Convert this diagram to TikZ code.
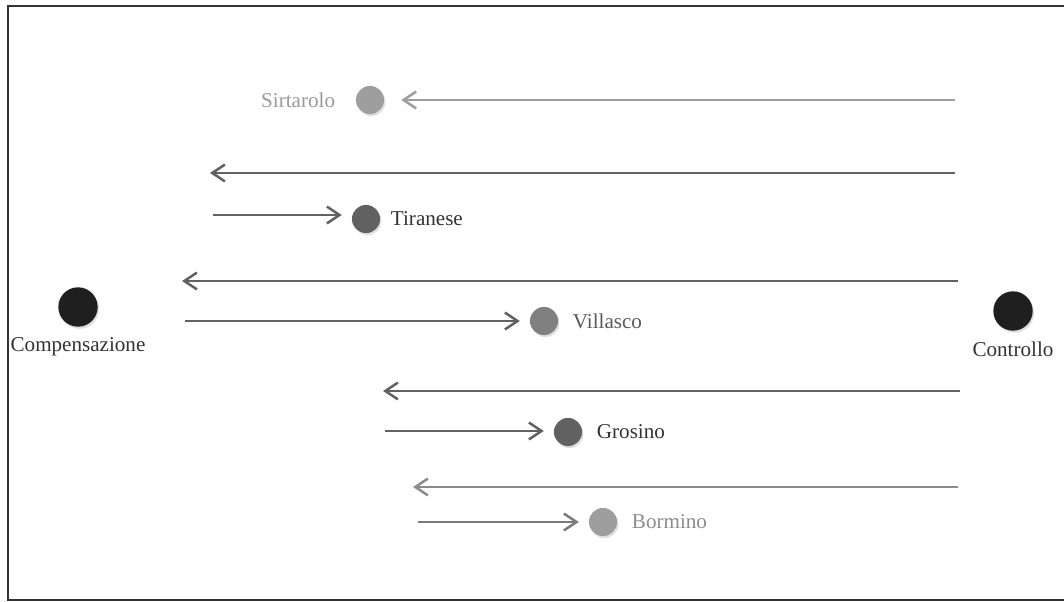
\documentclass[tikz,border=0pt]{standalone}
\usepackage{fontspec}
\setmainfont{Liberation Serif}
\usetikzlibrary{arrows.meta,shadows}

\tikzset{
  dot/.style={circle, inner sep=0pt, minimum size=#1,
    drop shadow={opacity=0.25, shadow xshift=1pt, shadow yshift=-1.5pt}},
  dot/.default=20pt,
  flow/.style={draw=#1, line width=2pt, -{Straight Barb[length=9pt,width=12pt,line width=1.8pt]}},
  flow/.default=black!62,
  lbl/.style={font=\fontsize{15}{18}\selectfont, text=#1},
  lbl/.default=black!80
}

\begin{document}
\begin{tikzpicture}[x=0.025cm, y=-0.025cm]
		%%%%% frame %%%%%
		\useasboundingbox (0, 0) rectangle (1064, 602);
		\draw[line width=2pt, black!80] (1064, 6) -- (8, 6) -- (8, 600) -- (1064, 600);
		
		%%%%% end points %%%%%
		\node[dot=28pt, fill=black!88] (comp) at (78, 307) {};
		\node[lbl, below=4pt] at (comp.south) {Compensazione};
		\node[dot=28pt, fill=black!88] (contr) at (1013, 311) {};
		\node[lbl, below=4pt] at (contr.south) {Controllo};
		
		%%%%% stations %%%%%
		\node[dot, fill=black!38] (sirt) at (370, 100) {};
		\node[lbl=black!40, anchor=east] at (340, 100) {Sirtarolo};
		
		\node[dot, fill=black!62] (tira) at (366, 219) {};
		\node[lbl, anchor=west] at (386, 219) {Tiranese};
		
		\node[dot, fill=black!50] (vill) at (544, 321) {};
		\node[lbl=black!65, anchor=west] at (568, 321) {Villasco};
		
		\node[dot, fill=black!62] (gros) at (568, 432) {};
		\node[lbl, anchor=west] at (592, 432) {Grosino};
		
		\node[dot, fill=black!38] (borm) at (603, 522) {};
		\node[lbl=black!45, anchor=west] at (627, 522) {Bormino};
		
		%%%%% free ends %%%%%
		\coordinate (s1) at (955, 100);
		\coordinate (t1) at (955, 173);
		\coordinate (t2) at (210, 173);
		\coordinate (t3) at (213, 215);
		\coordinate (v1) at (958, 281);
		\coordinate (v2) at (182, 281);
		\coordinate (v3) at (185, 321);
		\coordinate (g1) at (960, 391);
		\coordinate (g2) at (383, 391);
		\coordinate (g3) at (385, 431);
		\coordinate (b1) at (958, 487);
		\coordinate (b2) at (413, 487);
		\coordinate (b3) at (418, 522);
		
		%%%%% arrows %%%%%
		\draw[flow=black!38, shorten >=12pt] (s1) -- (s1 -| sirt.east);
		\draw[flow] (t1) -- (t2);
		\draw[flow, shorten >=7pt] (t3) -- (t3 -| tira.west);
		\draw[flow] (v1) -- (v2);
		\draw[flow, shorten >=7pt] (v3) -- (vill.west);
		\draw[flow] (g1) -- (g2);
		\draw[flow, shorten >=7pt] (g3) -- (g3 -| gros.west);
		\draw[flow=black!45] (b1) -- (b2);
		\draw[flow=black!52, shorten >=7pt] (b3) -- (borm.west);
\end{tikzpicture}
\end{document}
